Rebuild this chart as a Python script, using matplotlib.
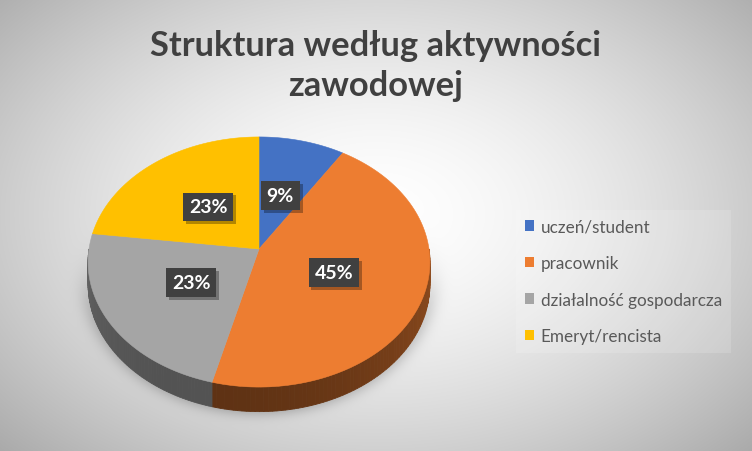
import numpy as np
import matplotlib
matplotlib.use("Agg")
import matplotlib.pyplot as plt
import matplotlib.patheffects as pe
from matplotlib.patches import Polygon, Patch

# chart data
title = "Struktura według aktywności\nzawodowej"
categories = ["uczeń/student", "pracownik", "działalność gospodarcza", "Emeryt/rencista"]
shares = [9, 45, 23, 23]
colors = ["#4472c4", "#ed7d31", "#a5a5a5", "#ffc000"]

W, H = 752, 452
fig = plt.figure(figsize=(W / 100, H / 100), dpi=100)
ax = fig.add_axes([0, 0, 1, 1])
ax.set_xlim(0, W)
ax.set_ylim(H, 0)
ax.axis("off")

# pie geometry (pixels) with a simple perspective tilt
cx, cy = 259, 250
R, A, P = 170, 123.7, 0.104
T = 22


def proj(theta, k=1.0, drop=0.0):
    X = k * np.sin(theta)
    Z = k * np.cos(theta)
    f = 1.0 / (1.0 + P * Z)
    return cx + R * X * f, cy - A * Z * f + drop * f


# radial background + soft shadow under the pie
yy, xx = np.mgrid[0:H, 0:W]
d = np.sqrt(((xx - 376) / 376.0) ** 2 + ((yy - 215) / 250.0) ** 2)
bg = 1.0 - 0.2 * np.clip(d, 0, 1.4) ** 1.6
e = np.sqrt(((xx - cx) / 176.0) ** 2 + ((yy - 272) / 140.0) ** 2)
lower = 1.0 / (1.0 + np.exp(-(yy - 290) / 15.0))
bg -= 0.18 * np.exp(-((e - 0.97) / 0.07) ** 2) * lower
bg = np.clip(bg, 0, 1)
ax.imshow(np.dstack([bg, bg, bg]), extent=[0, W, H, 0], zorder=0, aspect="auto")

total = float(sum(shares))
bounds = np.cumsum([0] + shares) / total * 2 * np.pi

# side walls (front half only), shaded darker toward the front
side_dark = [0.45, 0.40, 0.50, 0.45]
for i in range(len(shares)):
    a0 = max(bounds[i], np.pi / 2)
    a1 = min(bounds[i + 1], 3 * np.pi / 2)
    if a1 <= a0:
        continue
    ts = np.linspace(a0, a1, 80)
    base = np.array(matplotlib.colors.to_rgb(colors[i]))
    for t0, t1 in zip(ts[:-1], ts[1:]):
        tm = 0.5 * (t0 + t1)
        fac = side_dark[i] + 0.32 * (1 - np.cos(tm - np.radians(200))) / 2
        x0, y0 = proj(t0)
        x1, y1 = proj(t1)
        x2, y2 = proj(t1, drop=T)
        x3, y3 = proj(t0, drop=T)
        ax.add_patch(Polygon([(x0, y0), (x1, y1), (x2, y2), (x3, y3)], closed=True,
                             facecolor=np.clip(base * fac, 0, 1), edgecolor=np.clip(base * fac, 0, 1),
                             linewidth=0.6, zorder=2))

# top faces
for i in range(len(shares)):
    ts = np.linspace(bounds[i], bounds[i + 1], 120)
    pts = [(cx, cy)] + [proj(t) for t in ts]
    ax.add_patch(Polygon(pts, closed=True, facecolor=colors[i], edgecolor=colors[i],
                         linewidth=0.4, zorder=3))

# data labels
for i, v in enumerate(shares):
    tm = 0.5 * (bounds[i] + bounds[i + 1])
    lx, ly = proj(tm, k=0.47)
    txt = f"{round(v / total * 100)}%"
    t = ax.text(lx, ly, txt, fontsize=14, fontweight="bold", family="Lato", color="white",
                ha="center", va="center", zorder=5,
                bbox=dict(boxstyle="square,pad=0.3", facecolor="#404040", edgecolor="none"))
    t.get_bbox_patch().set_path_effects([
        pe.SimplePatchShadow(offset=(2, -2), shadow_rgbFace="black", alpha=0.3), pe.Normal()])

# title
ax.text(376, 66, title, fontsize=24.8, fontweight="bold", family="Lato", color="#404040",
        ha="center", va="center", linespacing=1.32, zorder=5)

# legend
handles = [Patch(facecolor=c, edgecolor="none") for c in colors]
leg = ax.legend(handles, categories, loc="upper left", bbox_to_anchor=(516 / W, 1 - 211 / H),
                bbox_transform=fig.transFigure, frameon=True,
                prop={"family": "Lato", "size": 12.3}, handlelength=0.55, handleheight=0.55,
                handletextpad=0.4, labelspacing=1.2, borderpad=0.5, borderaxespad=0)
leg.get_frame().set_facecolor("white")
leg.get_frame().set_alpha(0.15)
leg.get_frame().set_edgecolor("none")
leg.get_frame().set_boxstyle("square,pad=0")
for t in leg.get_texts():
    t.set_color("#595959")

fig.savefig("out.png", dpi=100)
